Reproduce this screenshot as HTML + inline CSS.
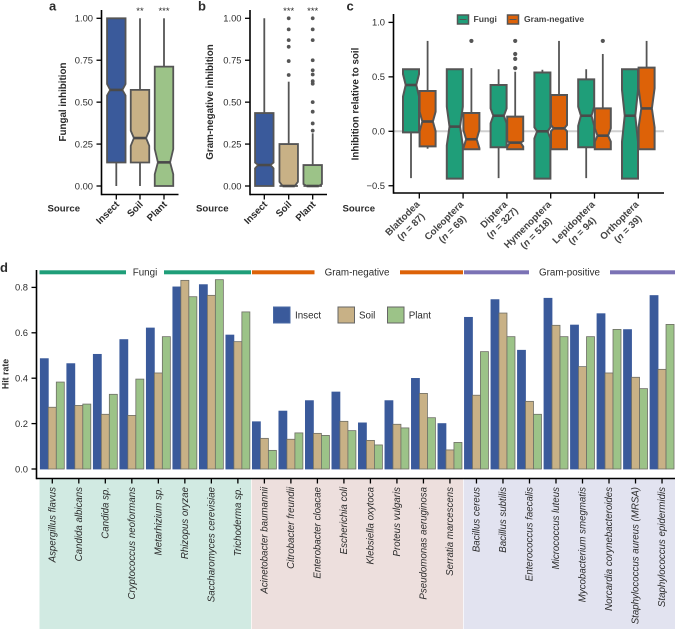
<!DOCTYPE html>
<html lang="en">
<head>
<meta charset="utf-8">
<title>Inhibition and hit rate by source</title>
<style>
html,body{margin:0;padding:0;background:#fff;}
svg{display:block;font-family:"Liberation Sans",Arial,sans-serif;}
text{fill:#2b2b2b;}
</style>
</head>
<body>
<svg id="fig" xmlns="http://www.w3.org/2000/svg" width="678" height="629" viewBox="0 0 678 629">
<g id="d-bg"></g>
<g id="a"></g>
<g id="b"></g>
<g id="c"></g>
<g id="d"></g>
</svg>
<script>
// Shared box-plot tick labels
var sourceCats = ['Insect', 'Soil', 'Plant'];
var fracTicks = [0, 0.25, 0.5, 0.75, 1];

// Panel a: Fungal inhibition
var aQ1 = [0.14, 0.14, 0];
var aNotchLow = [0.54, 0.24, 0.07];
var aMedian = [0.573, 0.286, 0.141];
var aNotchHigh = [0.608, 0.33, 0.22];
var aQ3 = [1, 0.573, 0.712];
var aWhiskLow = [0, 0, 0];
var aWhiskHigh = [1, 1, 1];
var aStars = ['', '**', '***'];

// Panel b: Gram-negative inhibition
var bQ1 = [0, 0, 0];
var bNotchLow = [0.105, 0, 0];
var bMedian = [0.125, 0, 0];
var bNotchHigh = [0.14, 0.025, 0.012];
var bQ3 = [0.435, 0.25, 0.125];
var bWhiskLow = [0, 0, 0];
var bWhiskHigh = [1, 0.622, 0.314];
var bOutliers = [[], [1, 0.934, 0.87, 0.83, 0.745, 0.662], [1, 0.934, 0.87, 0.75, 0.69, 0.665, 0.625, 0.61, 0.5, 0.443, 0.373, 0.33]];
var bStars = ['', '***', '***'];

// Panel c: Inhibition relative to soil
var orders = ['Blattodea', 'Coleoptera', 'Diptera', 'Hymenoptera', 'Lepidoptera', 'Orthoptera'];
var orderN = ['87', '69', '327', '518', '94', '39'];
var relTicks = [-0.5, 0, 0.5, 1];
var fungiQ1 = [-0.01, -0.435, -0.147, -0.435, -0.147, -0.435];
var fungiNotchLow = [0.32, -0.13, 0.073, -0.065, 0.05, -0.095];
var fungiMedian = [0.425, 0.043, 0.143, 0, 0.143, 0.143];
var fungiNotchHigh = [0.525, 0.226, 0.21, 0.037, 0.226, 0.38];
var fungiQ3 = [0.57, 0.57, 0.425, 0.54, 0.477, 0.57];
var fungiWhiskLow = [-0.43, -0.435, -0.43, -0.435, -0.43, -0.435];
var fungiWhiskHigh = [0.57, 0.57, 0.57, 0.565, 0.57, 0.57];
var gramQ1 = [-0.138, -0.165, -0.165, -0.165, -0.165, -0.165];
var gramNotchLow = [0, -0.155, -0.14, 0, -0.095, 0.037];
var gramMedian = [0.09, -0.073, -0.104, 0.027, -0.04, 0.21];
var gramNotchHigh = [0.18, 0.012, -0.09, 0.058, 0.027, 0.395];
var gramQ3 = [0.37, 0.168, 0.135, 0.333, 0.21, 0.585];
var gramWhiskLow = [-0.16, -0.165, -0.165, -0.165, -0.165, -0.165];
var gramWhiskHigh = [0.83, 0.58, 0.547, 0.83, 0.71, 0.83];
var gramOutliers = [[], [0.83], [0.83, 0.71, 0.665, 0.58], [], [0.83], []];

// Panel d: Hit rate
var species = ['Aspergillus flavus', 'Candida albicans', 'Candida sp.', 'Cryptococcus neoformans', 'Metarhizium sp.', 'Rhizopus oryzae', 'Saccharomyces cerevisiae', 'Trichoderma sp.', 'Acinetobacter baumannii', 'Citrobacter freundii', 'Enterobacter cloacae', 'Escherichia coli', 'Klebsiella oxytoca', 'Proteus vulgaris', 'Pseudomonas aeruginosa', 'Serratia marcescens', 'Bacillus cereus', 'Bacillus subtilis', 'Enterococcus faecalis', 'Micrococcus luteus', 'Mycobacterium smegmatis', 'Norcardia corynebacteroides', 'Staphylococcus aureus (MRSA)', 'Staphylococcus epidermidis'];
var hitInsect = [0.486, 0.464, 0.505, 0.57, 0.621, 0.802, 0.812, 0.59, 0.208, 0.255, 0.301, 0.339, 0.203, 0.301, 0.399, 0.2, 0.668, 0.746, 0.523, 0.752, 0.634, 0.684, 0.614, 0.764];
var hitSoil = [0.272, 0.28, 0.241, 0.236, 0.423, 0.831, 0.765, 0.561, 0.135, 0.131, 0.157, 0.21, 0.126, 0.197, 0.333, 0.084, 0.325, 0.687, 0.298, 0.633, 0.451, 0.423, 0.404, 0.439];
var hitPlant = [0.383, 0.286, 0.329, 0.396, 0.583, 0.759, 0.834, 0.692, 0.082, 0.159, 0.148, 0.169, 0.106, 0.181, 0.226, 0.117, 0.517, 0.583, 0.241, 0.583, 0.583, 0.615, 0.354, 0.637];
var hitTicks = [0, 0.2, 0.4, 0.6, 0.8];

var NS = 'http://www.w3.org/2000/svg';
var INSECT = '#3a5a9b', SOIL = '#c8b186', PLANT = '#9cc388', FUNGI = '#1f9e79', GRAM = '#dd6208', GPOS = '#7b72b5';
var BOX_STROKE = '#555';

function mk(tag, attrs, parent, txt) {
  var e = document.createElementNS(NS, tag);
  for (var k in attrs) { e.setAttribute(k, attrs[k]); }
  if (txt !== undefined) { e.textContent = txt; }
  parent.appendChild(e);
  return e;
}
function yFrac(v) { return 186 - 167.7 * v; }
function yRel(v) { return 131.3 - 108.9 * v; }
function yHit(v) { return 469 - 227 * v; }

function drawAxes(g, x0, yTop, yBot, xEnd, ticks, yFn, fmt, tickLen) {
  var v = mk('line', {x1: x0, x2: x0, y1: yTop, y2: yBot + 0.8, stroke: '#000', 'stroke-width': 1.6}, g);
  
  
  var h = mk('line', {x1: x0, x2: xEnd, y1: yBot, y2: yBot, stroke: '#000', 'stroke-width': 1.6}, g);
  
  
  ticks.forEach(function (t) {
    var m = mk('line', {x1: x0 - tickLen, x2: x0, y1: yFn(t), y2: yFn(t), stroke: '#000', 'stroke-width': 1.3}, g);
    
    
    var l = mk('text', {x: x0 - tickLen - 3.5, y: yFn(t) + 3.3, 'text-anchor': 'end', 'font-size': 9.4}, g, fmt(t));
    
    
  });
}

function drawBox(g, cx, w, fill, yFn, q1, nl, med, nh, q3, wl, wh, outliers, sw, dot) {
  var wh1 = mk('line', {x1: cx, x2: cx, y1: yFn(q3), y2: yFn(wh), stroke: BOX_STROKE, 'stroke-width': 1.8}, g);
  
  
  var wh2 = mk('line', {x1: cx, x2: cx, y1: yFn(q1), y2: yFn(wl), stroke: BOX_STROKE, 'stroke-width': 1.8}, g);
  
  
  var L = cx - w / 2, R = cx + w / 2, iL = cx - w * 0.33, iR = cx + w * 0.33;
  var pts = [[L, yFn(q1)], [L, yFn(nl)], [iL, yFn(med)], [L, yFn(nh)], [L, yFn(q3)], [R, yFn(q3)], [R, yFn(nh)], [iR, yFn(med)], [R, yFn(nl)], [R, yFn(q1)]];
  var box = mk('polygon', {points: pts.map(function (p) { return p[0].toFixed(2) + ',' + p[1].toFixed(2); }).join(' '), fill: fill, stroke: BOX_STROKE, 'stroke-width': sw, 'stroke-linejoin': 'miter'}, g);
  
  
  var mline = mk('line', {x1: iL, x2: iR, y1: yFn(med), y2: yFn(med), stroke: '#4a4a4a', 'stroke-width': 2.6}, g);
  
  
  (outliers || []).forEach(function (o) {
    var c = mk('circle', {cx: cx, cy: yFn(o), r: dot, fill: BOX_STROKE}, g);
    
    
  });
}

function rotLabel(g, x, y, str, name) {
  var t = mk('text', {transform: 'translate(' + x + ',' + y + ') rotate(-45)', 'text-anchor': 'end', 'font-size': 9.7, 'font-weight': 'bold', fill: '#444'}, g, str);
  
  
  return t;
}
function bold(g, x, y, str, size, name) {
  var t = mk('text', {x: x, y: y, 'font-size': size, 'font-weight': 'bold', fill: '#111'}, g, str);
  
  
  return t;
}
function vTitle(g, x, y, str, size) {
  var t = mk('text', {transform: 'translate(' + x + ',' + y + ') rotate(-90)', 'text-anchor': 'middle', 'font-size': size, 'font-weight': 'bold', fill: '#222'}, g, str);
  
  
}
function fmt2(v) { return v.toFixed(2); }
function fmt1(v) { return v < 0 ? '\u2212' + Math.abs(v).toFixed(1) : v.toFixed(1); }

function sourcePanel(id, letter, letterX, axisX, title, titleX, xs, q1, nl, med, nh, q3, wl, wh, outs, stars) {
  var g = document.getElementById(id);
  bold(g, letterX, 10.5, letter, 13, 'panel-label');
  drawAxes(g, axisX, 10, 194.5, axisX + 77, fracTicks, yFrac, fmt2, 5);
  vTitle(g, titleX, 102, title, 9.8);
  bold(g, axisX - 54, 211.5, 'Source', 9.6, 'source-label');
  var colors = [INSECT, SOIL, PLANT];
  sourceCats.forEach(function (cat, i) {
    drawBox(g, xs[i], 18.5, colors[i], yFrac, q1[i], nl[i], med[i], nh[i], q3[i], wl[i], wh[i], outs ? outs[i] : [], 1.8, 1.9);
    var tk = mk('line', {x1: xs[i], x2: xs[i], y1: 194.5, y2: 199.5, stroke: '#000', 'stroke-width': 1.3}, g);
    
    
    rotLabel(g, xs[i] + 3.5, 205, cat, 'x-tick-label');
    if (stars[i]) {
      var s = mk('text', {x: xs[i], y: 14, 'text-anchor': 'middle', 'font-size': 9.5, fill: '#222'}, g, stars[i]);
      
      
    }
  });
}
sourcePanel('a', 'a', 49, 101.5, 'Fungal inhibition', 66, [116.3, 140, 164], aQ1, aNotchLow, aMedian, aNotchHigh, aQ3, aWhiskLow, aWhiskHigh, null, aStars);
sourcePanel('b', 'b', 198, 250, 'Gram-negative inhibition', 213, [264.3, 288.7, 312.7], bQ1, bNotchLow, bMedian, bNotchHigh, bQ3, bWhiskLow, bWhiskHigh, bOutliers, bStars);

// Panel c
(function () {
  var g = document.getElementById('c');
  bold(g, 346.5, 10.5, 'c', 13, 'panel-label');
  var ref = mk('line', {x1: 394, x2: 664, y1: yRel(0), y2: yRel(0), stroke: '#cfcfcf', 'stroke-width': 2}, g);
  
  
  drawAxes(g, 393.5, 14, 193, 664, relTicks, yRel, fmt1, 5);
  vTitle(g, 358.5, 104, 'Inhibition relative to soil', 9.8);
  bold(g, 342.5, 211.5, 'Source', 9.6, 'source-label');
  orders.forEach(function (ord, i) {
    var cx = 419.3 + 43.8 * i;
    drawBox(g, cx - 8.3, 16, FUNGI, yRel, fungiQ1[i], fungiNotchLow[i], fungiMedian[i], fungiNotchHigh[i], fungiQ3[i], fungiWhiskLow[i], fungiWhiskHigh[i], [], 2, 2.1);
    drawBox(g, cx + 8.3, 16, GRAM, yRel, gramQ1[i], gramNotchLow[i], gramMedian[i], gramNotchHigh[i], gramQ3[i], gramWhiskLow[i], gramWhiskHigh[i], gramOutliers[i], 2, 2.1);
    var tk = mk('line', {x1: cx, x2: cx, y1: 193, y2: 198.5, stroke: '#000', 'stroke-width': 1.3}, g);
    
    
    var grp = mk('g', {transform: 'translate(' + (cx + 1) + ',205) rotate(-45)', 'font-size': 9.7, 'font-weight': 'bold'}, g);
    
    
    var l1 = mk('text', {x: 0, y: 0, 'text-anchor': 'end', style: 'fill:#444'}, grp, ord);
    
    
    var l2 = mk('text', {x: -l1.getComputedTextLength() / 2, y: 12, 'text-anchor': 'middle', style: 'fill:#444'}, grp);
    
    
    l2.appendChild(document.createTextNode('('));
    var it = mk('tspan', {'font-style': 'italic'}, l2, 'n');
    
    
    l2.appendChild(document.createTextNode(' = ' + orderN[i] + ')'));
  });
  var keys = [['Fungi', FUNGI, 457.5, 473.5], ['Gram-negative', GRAM, 507.5, 524]];
  keys.forEach(function (k) {
    var r = mk('rect', {x: k[2], y: 15, width: 11, height: 9, fill: k[1], stroke: BOX_STROKE, 'stroke-width': 1.5}, g);
    
    
    var m = mk('line', {x1: k[2] + 2, x2: k[2] + 9, y1: 19.5, y2: 19.5, stroke: '#555', 'stroke-width': 1}, g);
    
    
    var t = mk('text', {x: k[3], y: 22, 'font-size': 8.6, 'font-weight': 'bold', style: 'fill:#444'}, g, k[0]);
    
    
  });
})();

// Panel d
(function () {
  var bg = document.getElementById('d-bg');
  var g = document.getElementById('d');
  var bands = [[39.5, 251, '#d1eae2'], [251.7, 463, '#eddfdd'], [463.7, 675, '#e2e3f0']];
  bands.forEach(function (b) {
    var r = mk('rect', {x: b[0], y: 478, width: b[1] - b[0], height: 151, fill: b[2]}, bg);
    
    
  });
  bold(g, 0, 272, 'd', 13, 'panel-label');
  function xCat(i) { return 52.3 + 26.51 * i; }
  var seriesVals = [hitInsect, hitSoil, hitPlant];
  var seriesCols = [INSECT, SOIL, PLANT];
  species.forEach(function (name, i) {
    seriesVals.forEach(function (vals, s) {
      var bx = xCat(i) + (s - 1) * 8 - 4;
      var bar = mk('rect', {x: bx, y: yHit(vals[i]), width: 8, height: yHit(0) - yHit(vals[i]), fill: seriesCols[s], stroke: s === 0 ? '#3a5a9b' : '#6e6e66', 'stroke-width': 0.8}, g);
      
      
    });
    var tk = mk('line', {x1: xCat(i), x2: xCat(i), y1: 478.5, y2: 483.5, stroke: '#000', 'stroke-width': 1.3}, g);
    
    
    var t = mk('text', {transform: 'translate(' + (xCat(i) + 3.2) + ',487) rotate(-90)', 'text-anchor': 'end', 'font-size': 9.7, 'font-style': 'italic', fill: '#222'}, g, name);
    
    
  });
  drawAxes(g, 36.5, 270, 478.5, 675, hitTicks, yHit, fmt1, 5);
  vTitle(g, 8.5, 374, 'Hit rate', 8.8);

  var segs = [[39.5, 126, FUNGI], [164, 251, FUNGI], [252, 314.5, GRAM], [400, 463, GRAM], [464, 529, GPOS], [610, 675, GPOS]];
  segs.forEach(function (s) {
    var r = mk('rect', {x: s[0], y: 270.3, width: s[1] - s[0], height: 4, fill: s[2]}, g);
    
    
  });
  var heads = [['Fungi', 145], ['Gram-negative', 357], ['Gram-positive', 569.5]];
  heads.forEach(function (h) {
    var t = mk('text', {x: h[1], y: 275.5, 'text-anchor': 'middle', 'font-size': 9.8, fill: '#333'}, g, h[0]);
    
    
  });
  var leg = [['Insect', INSECT, 273.5, 295], ['Soil', SOIL, 338, 359], ['Plant', PLANT, 387.5, 408.7]];
  leg.forEach(function (l) {
    var r = mk('rect', {x: l[2], y: 307, width: 16.5, height: 16, fill: l[1], stroke: l[1] === INSECT ? '#4a6aa5' : '#666', 'stroke-width': 1}, g);
    
    
    var t = mk('text', {x: l[3], y: 318.5, 'font-size': 9.8, fill: '#333'}, g, l[0]);
    
    
  });
})();
</script>
</body>
</html>
